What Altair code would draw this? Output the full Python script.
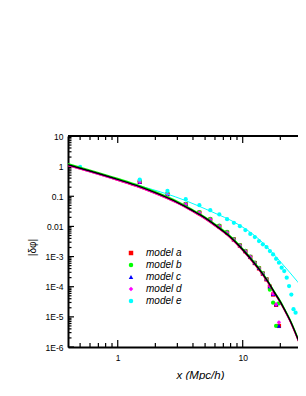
import math
import altair as alt
import pandas as pd

# ---------------- data ----------------
# thick black theory curve
theory_x = [0.4, 0.6, 1.0, 1.5, 2.0, 3.0, 4.0, 5.0, 6.0, 8.0, 10.0, 12.0, 14.0, 16.0,
            18.0, 20.0, 22.0, 24.0, 26.0, 28.0]
theory_y = [1.12, 0.692, 0.363, 0.209, 0.132, 0.0631, 0.0331, 0.0191, 0.0112, 0.00437,
            0.0017, 7.08e-4, 3.16e-4, 1.41e-4, 6.3e-5, 3.16e-5, 1.51e-5, 7.4e-6, 3.47e-6, 1.62e-6]

# thin cyan curve (model e theory)
cyan_x = [0.396, 1.0, 1.49, 2.44, 3.42, 4.37, 5.41, 6.51, 7.83, 9.41, 11.31, 13.6, 16.36,
          19.66, 23.64, 27.39, 31.7]
cyan_y = [1.112, 0.355, 0.224, 0.122, 0.0743, 0.0489, 0.0333, 0.0237, 0.0168, 0.01104,
          0.00673, 0.00366, 0.00171, 7.38e-4, 3.07e-4, 1.49e-4, 7.2e-5]

models = ["model a", "model b", "model c", "model d", "model e"]
colors = ["#ff0000", "#00ff00", "#0000ff", "#ff00ff", "#00ffff"]
shapes = ["square", "circle", "triangle-up", "diamond", "circle"]

abcd_x = [1.5, 2.5, 3.5, 4.5, 5.5, 6.5, 7.5, 8.5, 9.5, 10.5, 11.5, 12.5, 13.5, 14.5, 15.5,
          16.5, 17.5, 18.5, 19.5]
model_a = [0.30, 0.116, 0.054, 0.0285, 0.0168, 0.0101, 0.0062, 0.0037, 0.00232, 0.0015,
           9.7e-4, 6.1e-4, 4.05e-4, 2.7e-4, 1.75e-4, 1.0e-4, 5.5e-5, 2.5e-5, 5.0e-6]
model_b = [0.31, 0.12, 0.056, 0.030, 0.0177, 0.0106, 0.0066, 0.0038, 0.0024, 0.00155,
           1.0e-3, 6.3e-4, 4.2e-4, 2.8e-4, 1.8e-4, 8.0e-5, 2.95e-5, 5.0e-6, 2.8e-5]
model_c = [0.30, 0.117, 0.055, 0.0287, 0.0169, 0.0102, 0.0063, 0.0037, 0.00233, 0.0015,
           9.8e-4, 6.2e-4, 4.1e-4, 2.75e-4, 1.77e-4, 1.03e-4, 5.7e-5, 2.6e-5, 5.0e-6]
model_d = [0.300, 0.1175, 0.0550, 0.0288, 0.0170, 0.0102, 0.0063, 0.00372, 0.00234, 0.00151,
           9.8e-4, 6.2e-4, 4.1e-4, 2.75e-4, 1.78e-4, 1.05e-4, 5.8e-5, 2.6e-5, 6.6e-6]
e_x = [0.5, 1.5, 2.5, 3.5, 4.5, 5.5, 6.5, 7.5, 8.5, 9.5, 10.5, 11.5, 12.5, 13.5, 14.5,
       15.5, 16.5, 17.5, 18.5, 19.5, 20.5, 21.5, 22.5, 23.5, 24.5, 25.5, 26.5]
model_e = [0.942, 0.360, 0.151, 0.0802, 0.0507, 0.0347, 0.0251, 0.0174, 0.0132, 0.0102,
           0.00759, 0.00562, 0.00443, 0.00326, 0.00254, 0.00207, 0.00152, 0.00118, 8.45e-4,
           6.24e-4, 4.26e-4, 3.31e-4, 1.99e-4, 1.05e-4, 5.5e-5, 1.79e-5, 1.38e-5]

x_major = [1, 10]
x_labels = ["1", "10"]
x_minor = [0.5, 0.6, 0.7, 0.8, 0.9, 2, 3, 4, 5, 6, 7, 8, 9, 20]
y_major = [10, 1, 0.1, 0.01, 1e-3, 1e-4, 1e-5, 1e-6]
y_labels = ["10", "1", "0.1", "0.01", "1E-3", "1E-4", "1E-5", "1E-6"]
y_minor = [k * 10.0 ** e for e in range(-6, 1) for k in range(2, 10)]

# ---------------- tables ----------------
theory = pd.DataFrame({"x": theory_x, "y": theory_y})
cyan_line = pd.DataFrame({"x": cyan_x, "y": cyan_y})
rows = []
for name, vals in zip(models[:4], [model_a, model_b, model_c, model_d]):
    rows += [{"x": xv, "y": yv, "model": name} for xv, yv in zip(abcd_x, vals)]
rows += [{"x": xv, "y": yv, "model": "model e"} for xv, yv in zip(e_x, model_e)]
points = pd.DataFrame(rows)

W, H = 230, 211
FONT = "Liberation Sans"

def lab_expr(values, labels):
    expr = "''"
    for v, l in reversed(list(zip(values, labels))):
        expr = f"abs(log(datum.value)/LN10 - ({round(math.log10(v))})) < 0.1 ? '{l}' : ({expr})"
    return expr

xscale = alt.Scale(type="log", domain=[0.4, 27.7], nice=False)
yscale = alt.Scale(type="log", domain=[1e-6, 10], nice=False)
xaxis = alt.Axis(values=x_major, labelExpr=lab_expr(x_major, x_labels), ticks=False, grid=False,
                 domainColor="black", domainWidth=2, labelFont=FONT, labelFontSize=8.5,
                 labelColor="black", labelPadding=6, labelFlush=False,
                 title="x (Mpc/h)", titleFont=FONT, titleFontSize=11.5, titleFontStyle="italic",
                 titleFontWeight="normal", titleColor="black", titleX=132, titleY=28,
                 titleBaseline="middle", titleAlign="center")
yaxis = alt.Axis(values=y_major, labelExpr=lab_expr(y_major, y_labels), ticks=False, grid=False,
                 domainColor="black", domainWidth=2, labelFont=FONT, labelFontSize=8.5,
                 labelColor="black", labelPadding=5, labelFlush=False,
                 title="|δφ|", titleFont=FONT, titleFontSize=10, titleFontWeight="normal",
                 titleColor="black", titleX=-36, titleY=111, titleBaseline="middle",
                 titleAlign="center", titleAngle=270)

X = alt.X("x:Q", scale=xscale, axis=xaxis)
Y = alt.Y("y:Q", scale=yscale, axis=yaxis)

def xt(vals):
    return alt.Chart(pd.DataFrame({"x": vals}))

def yt(vals):
    return alt.Chart(pd.DataFrame({"y": vals}))

tick_w = 1.2
layers = [
    # top border
    alt.Chart(pd.DataFrame({"x": [1]})).mark_rule(color="black", strokeWidth=2).encode(
        x=alt.value(0), x2=alt.value(W), y=alt.value(0)),
    # top ticks
    xt(x_major).mark_rule(color="black", strokeWidth=tick_w).encode(x=X, y=alt.value(0), y2=alt.value(7)),
    xt(x_minor).mark_rule(color="black", strokeWidth=tick_w).encode(x=X, y=alt.value(0), y2=alt.value(4)),
    # bottom ticks
    xt(x_major).mark_rule(color="black", strokeWidth=tick_w).encode(x=X, y=alt.value(H), y2=alt.value(H - 7)),
    xt(x_minor).mark_rule(color="black", strokeWidth=tick_w).encode(x=X, y=alt.value(H), y2=alt.value(H - 4)),
    # left ticks
    yt(y_major).mark_rule(color="black", strokeWidth=tick_w).encode(y=Y, x=alt.value(0), x2=alt.value(6)),
    yt(y_minor).mark_rule(color="black", strokeWidth=tick_w).encode(y=Y, x=alt.value(0), x2=alt.value(3.5)),
]

leg = alt.Legend(title=None, orient="none", legendX=58, legendY=112, labelFont=FONT,
                 labelFontStyle="italic", labelFontSize=10, labelColor="black",
                 symbolSize=20, labelOffset=10, rowPadding=2, padding=0, symbolStrokeWidth=0)
pts = alt.Chart(points).mark_point(filled=True, size=18, opacity=1, clip=True).encode(
    x=X, y=Y,
    color=alt.Color("model:N", scale=alt.Scale(domain=models, range=colors), legend=leg),
    shape=alt.Shape("model:N", scale=alt.Scale(domain=models, range=shapes), legend=leg),
)
layers.append(pts)

layers += [
    # model theory curves (coinciding), drawn over the markers
    alt.Chart(cyan_line).mark_line(color="#00ffff", strokeWidth=1.0, interpolate="monotone", clip=True).encode(x=X, y=Y),
    alt.Chart(theory).mark_line(color="#00ff00", strokeWidth=1.2, interpolate="monotone", clip=True, yOffset=-1).encode(x=X, y=Y),
    alt.Chart(theory).mark_line(color="#ff0000", strokeWidth=1.2, interpolate="monotone", clip=True, yOffset=1).encode(x=X, y=Y),
    alt.Chart(theory).mark_line(color="#ff00ff", strokeWidth=1.0, interpolate="monotone", clip=True, yOffset=1).encode(x=X, y=Y),
    alt.Chart(theory).mark_line(color="black", strokeWidth=1.5, interpolate="monotone", clip=True).encode(x=X, y=Y),
]

chart = alt.layer(*layers).properties(
    width=W, height=H,
    autosize=alt.AutoSizeParams(type="none"),
    padding={"left": 60, "top": 128, "right": 0, "bottom": 33},
    background="white",
).configure_view(stroke="transparent")

chart.save("out.html", embed_options={"renderer": "svg", "actions": False})
